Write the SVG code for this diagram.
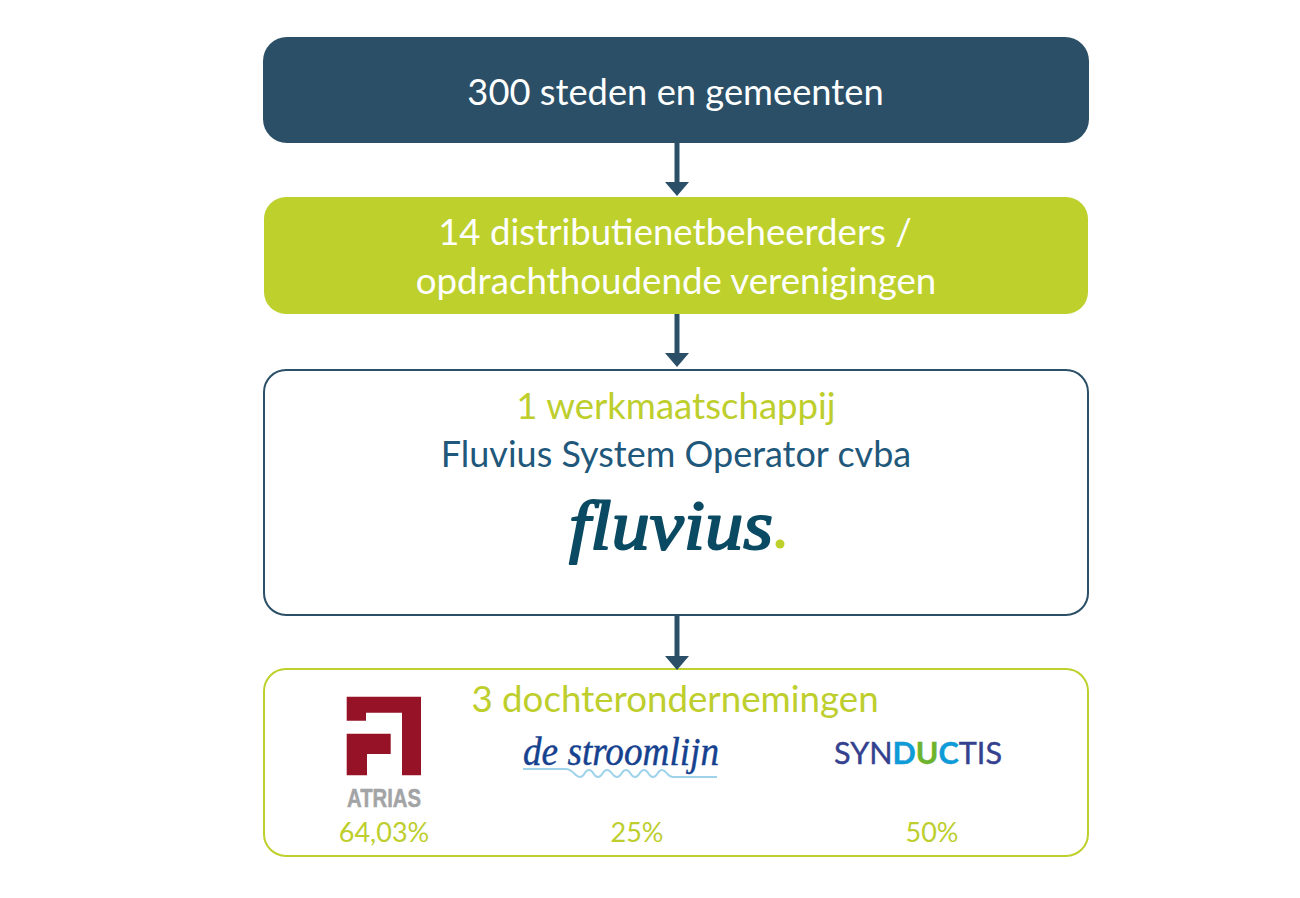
<svg xmlns="http://www.w3.org/2000/svg" width="1300" height="898" viewBox="0 0 1300 898">
<style>
.t{font-family:"Lato","Open Sans","Liberation Sans",sans-serif;text-anchor:middle}
.w{fill:#fff}
.g{fill:#bdce2d}
.b{fill:#1f587a}
.p{font-size:27px}
.c{fill:none;stroke:#2a4f67;stroke-width:5}
</style>
<defs>
<marker id="ah" markerUnits="userSpaceOnUse" markerWidth="14" markerHeight="24" refX="0" refY="12" orient="auto" viewBox="0 0 14 24"><path d="M0 0L14 12L0 24Z" fill="#2a4f67"/></marker>
</defs>
<rect width="1300" height="898" fill="#fff"/>
<g id="node-gemeenten">
<rect x="263" y="37" width="826" height="106" rx="24" fill="#2a4f67"/>
<text class="t w" x="675.5" y="105" font-size="36.3">300 steden en gemeenten</text>
</g>
<g id="node-dnb">
<rect x="264" y="197" width="824" height="117" rx="22" fill="#bdd02c"/>
<text class="t w" x="675" y="245" font-size="36.6">14 distributienetbeheerders /</text>
<text class="t w" x="676" y="294" font-size="36.7">opdrachthoudende verenigingen</text>
</g>
<g id="node-werkmaatschappij">
<rect x="264" y="370" width="824" height="245" rx="22" fill="#fff" stroke="#2a4f67" stroke-width="2"/>
<text class="t g" x="676" y="419" font-size="36.6">1 werkmaatschappij</text>
<text class="t b" x="676" y="467" font-size="36">Fluvius System Operator cvba</text>
<text x="569" y="549" font-family="'Liberation Serif',serif" font-style="italic" font-size="70" fill="#0b4a63" stroke="#0b4a63" stroke-width="2" stroke-linejoin="round" textLength="204" lengthAdjust="spacingAndGlyphs">fluvius</text>
<circle cx="780" cy="544" r="4.5" fill="#bdd02c"/>
</g>
<g id="node-dochters">
<rect x="264" y="669" width="824" height="187" rx="22" fill="#fff" stroke="#bdd02c" stroke-width="2"/>
<text class="t g" x="675" y="712" font-size="36.7">3 dochterondernemingen</text>
<g id="logo-atrias">
<path d="M346.7 696.7H421V775.3H402V712.7H366V720.7H346.7Z" fill="#961327"/>
<path d="M346.7 733.7H390.7V754H367V775.3H346.7Z" fill="#961327"/>
<text x="347" y="807" font-family="'Liberation Sans Narrow','Liberation Sans',sans-serif" font-weight="700" font-size="26" fill="#a3a4a6" stroke="#a3a4a6" stroke-width=".5" textLength="74" lengthAdjust="spacingAndGlyphs">ATRIAS</text>
<text class="t g p" x="384" y="842">64,03%</text>
</g>
<g id="logo-stroomlijn">
<text x="523" y="765" font-family="'Liberation Serif',serif" font-style="italic" font-size="40" fill="#15418f" stroke="#15418f" stroke-width=".4" textLength="196" lengthAdjust="spacingAndGlyphs">de stroomlijn</text>
<path d="M523 769H566C573 769 575 777 580 777C585 777 584 770 589 770C594 770 593 777 598 777C603 777 602 770 607 770C612 770 612 777 617 777C622 777 621 770 626 770C631 770 630 777 635 777C640 777 639 770 644 770C649 770 648 777 653 777C658 777 657 770 662 770C667 770 667 777 673 777H717" fill="none" stroke="#9fd3ea" stroke-width="2"/>
<text class="t g p" x="637" y="842">25%</text>
</g>
<g id="logo-synductis">
<text x="834" y="764" font-family="'Lato','Open Sans',sans-serif" font-size="30" fill="#34418f" stroke="#34418f" stroke-width=".4" textLength="168" lengthAdjust="spacingAndGlyphs">SYN<tspan fill="#0f9bd7" stroke="#0f9bd7" font-weight="700">D</tspan><tspan fill="#6cb42d" stroke="#6cb42d" font-weight="700">U</tspan><tspan fill="#0f9bd7" stroke="#0f9bd7" font-weight="700">C</tspan>TIS</text>
<text class="t g p" x="932" y="842">50%</text>
</g>
</g>
<g id="connectors">
<path class="c" d="M677 143V182" marker-end="url(#ah)"/>
<path class="c" d="M677 314V353" marker-end="url(#ah)"/>
<path class="c" d="M677 616V656" marker-end="url(#ah)"/>
</g>
</svg>
